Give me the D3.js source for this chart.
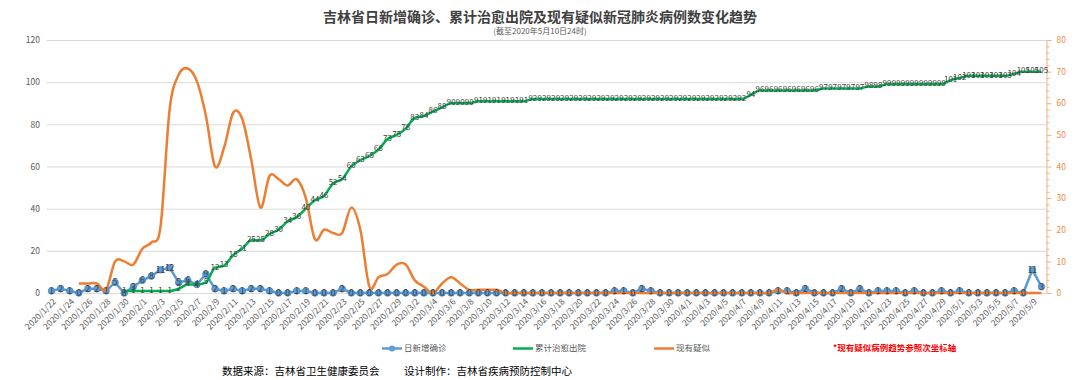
<!DOCTYPE html>
<html><head><meta charset="utf-8">
<script src="https://cdn.jsdelivr.net/npm/d3@7/dist/d3.min.js"></script>
<style>
body{margin:0;background:#fff;}
text{font-family:"Noto Sans CJK SC","Noto Sans",sans-serif;}
</style>
</head><body>
<svg id="chart" width="1080" height="380"></svg>
<script>
const dates = [
"2020/1/22","2020/1/23","2020/1/24","2020/1/25","2020/1/26","2020/1/27","2020/1/28","2020/1/29","2020/1/30","2020/1/31",
"2020/2/1","2020/2/2","2020/2/3","2020/2/4","2020/2/5","2020/2/6","2020/2/7","2020/2/8","2020/2/9","2020/2/10",
"2020/2/11","2020/2/12","2020/2/13","2020/2/14","2020/2/15","2020/2/16","2020/2/17","2020/2/18","2020/2/19","2020/2/20",
"2020/2/21","2020/2/22","2020/2/23","2020/2/24","2020/2/25","2020/2/26","2020/2/27","2020/2/28","2020/2/29",
"2020/3/1","2020/3/2","2020/3/3","2020/3/4","2020/3/5","2020/3/6","2020/3/7","2020/3/8","2020/3/9","2020/3/10",
"2020/3/11","2020/3/12","2020/3/13","2020/3/14","2020/3/15","2020/3/16","2020/3/17","2020/3/18","2020/3/19","2020/3/20",
"2020/3/21","2020/3/22","2020/3/23","2020/3/24","2020/3/25","2020/3/26","2020/3/27","2020/3/28","2020/3/29","2020/3/30","2020/3/31",
"2020/4/1","2020/4/2","2020/4/3","2020/4/4","2020/4/5","2020/4/6","2020/4/7","2020/4/8","2020/4/9","2020/4/10",
"2020/4/11","2020/4/12","2020/4/13","2020/4/14","2020/4/15","2020/4/16","2020/4/17","2020/4/18","2020/4/19","2020/4/20",
"2020/4/21","2020/4/22","2020/4/23","2020/4/24","2020/4/25","2020/4/26","2020/4/27","2020/4/28","2020/4/29","2020/4/30",
"2020/5/1","2020/5/2","2020/5/3","2020/5/4","2020/5/5","2020/5/6","2020/5/7","2020/5/8","2020/5/9","2020/5/10"
];
// 日新增确诊
const newConfirmed = [
1,2,1,0,2,2,1,5,0,3,
6,8,11,12,5,6,4,9,2,1,
2,1,2,2,1,0,0,1,1,0,
0,0,2,0,0,0,0,0,0,
0,0,0,0,0,0,0,0,0,0,
0,0,0,0,0,0,0,0,0,0,
0,0,0,1,1,0,2,1,0,0,0,
0,0,0,0,0,0,0,0,0,0,
1,1,0,2,0,0,0,2,0,2,
0,1,1,1,0,1,0,0,1,0,
1,0,0,0,0,0,1,0,11,3
];
// 累计治愈出院
const cured = [
null,null,null,null,null,null,null,null,1,1,
1,1,1,1,2,4,4,5,12,13,
18,21,25,25,28,30,34,36,40,44,
46,52,54,60,63,65,68,73,75,
78,83,84,86,88,90,90,90,91,91,
91,91,91,91,92,92,92,92,92,92,
92,92,92,92,92,92,92,92,92,92,92,
92,92,92,92,92,92,92,94,96,96,
96,96,96,96,96,97,97,97,97,97,
98,98,99,99,99,99,99,99,99,101,
102,103,103,103,103,103,104,105,105,105
];
// 现有疑似 (次坐标轴)
const suspected = [
null,null,null,3,3,3,1,10,10,9,
14,16,21,58,69,71,67,56,40,46,
57,55,42,27,37,36,34,36,30,17,
20,19,19,27,20,2,5,6,9,
9,4,2,0,3,5,3,1,1,1,
1,0,0,0,0,0,0,0,0,0,
0,0,0,0,0,0,0,0,0,0,0,
0,0,0,0,0,0,0,0,0,0,
1,0,0,0,0,0,0,0,0,0,
0,0,0,0,0,0,0,0,0,0,
0,0,0,0,0,0,0,0,0,0
];
const leftTicks = [0,20,40,60,80,100,120];
const rightTicks = [0,10,20,30,40,50,60,70,80];
const rightMinor = [2,4,6,8,12,14,16,18,22,24,26,28,32,34,36,38,42,44,46,48,52,54,56,58,62,64,66,68,72,74,76,78];
const seriesNames = ["日新增确诊","累计治愈出院","现有疑似"];
const colors = ["#5B9BD5","#00B050","#ED7D31"];

const svg = d3.select("#chart");
const x = d3.scaleBand().domain(dates).range([47,1046]);
const cx = d => x(d) + x.bandwidth()/2;
const yL = d3.scaleLinear().domain([0,120]).range([293,40]);
const yR = d3.scaleLinear().domain([0,80]).range([293,40]);

// title
svg.append("text").attr("x",540).attr("y",22).attr("text-anchor","middle")
  .attr("font-size",14).attr("font-weight","bold").attr("fill","#404040")
  .text("吉林省日新增确诊、累计治愈出院及现有疑似新冠肺炎病例数变化趋势");
svg.append("text").attr("x",540).attr("y",34).attr("text-anchor","middle")
  .attr("font-size",8).attr("fill","#595959").text("(截至2020年5月10日24时)");

// gridlines
const g = svg.append("g");
g.selectAll("line.grid").data(leftTicks).join("line")
  .attr("x1",47).attr("x2",1046).attr("y1",d=>yL(d)+0.5).attr("y2",d=>yL(d)+0.5)
  .attr("stroke","#D9D9D9").attr("stroke-width",1);

// left axis labels
const axL = d3.axisLeft(yL).tickValues(leftTicks).tickSize(0).tickPadding(7);
svg.append("g").attr("transform","translate(47,0)").call(axL)
  .call(s=>s.select(".domain").remove())
  .call(s=>s.selectAll("text").attr("fill","#595959").attr("font-size",8.5)
     .attr("font-family","'Noto Sans CJK SC',sans-serif"));

// right axis
const axR = d3.axisRight(yR).tickValues(rightTicks).tickSize(5).tickPadding(5);
const gr = svg.append("g").attr("transform","translate(1046.5,0)").call(axR);
gr.select(".domain").attr("stroke","#F4B183");
gr.selectAll(".tick line").attr("stroke","#F4B183");
gr.selectAll("text").attr("fill","#EE8A45").attr("font-size",8.5)
  .attr("font-family","'Noto Sans CJK SC',sans-serif");
gr.selectAll("line.minor").data(rightMinor).join("line").attr("class","minor")
  .attr("x1",0).attr("x2",3).attr("y1",d=>yR(d)+0.5).attr("y2",d=>yR(d)+0.5)
  .attr("stroke","#F4B183");

// x axis labels
const xLabels = dates.filter((d,i)=>i%2===0);
svg.append("g").selectAll("text").data(xLabels).join("text")
  .attr("transform",d=>`translate(${cx(d)+3},${300}) rotate(-45)`)
  .attr("text-anchor","end").attr("dy","0.35em")
  .attr("font-size",8.5).attr("fill","#595959").text(d=>d);

// blue line
const ptsB = dates.map((d,i)=>({d,v:newConfirmed[i]}));
svg.append("path").datum(ptsB)
  .attr("d",d3.line().x(p=>cx(p.d)).y(p=>yL(p.v)))
  .attr("fill","none").attr("stroke",colors[0]).attr("stroke-width",2.5);
svg.append("g").selectAll("circle").data(ptsB).join("circle")
  .attr("cx",p=>cx(p.d)).attr("cy",p=>yL(p.v)).attr("r",3.3)
  .attr("fill",colors[0]).attr("stroke","#4A86C0").attr("stroke-width",0.8);

// green line
const ptsG = dates.map((d,i)=>({d,v:cured[i]})).filter(p=>p.v!==null);
svg.append("path").datum(ptsG)
  .attr("d",d3.line().x(p=>cx(p.d)).y(p=>yL(p.v)).curve(d3.curveMonotoneX))
  .attr("fill","none").attr("stroke",colors[1]).attr("stroke-width",2.5);

// orange line (secondary axis)
const ptsO = dates.map((d,i)=>({d,v:suspected[i]})).filter(p=>p.v!==null);
svg.append("path").datum(ptsO)
  .attr("d",d3.line().x(p=>cx(p.d)).y(p=>yR(p.v)).curve(d3.curveCardinal.tension(0)))
  .attr("fill","none").attr("stroke",colors[2]).attr("stroke-width",2.5);

// data labels
svg.append("g").selectAll("text").data(ptsB).join("text")
  .attr("x",p=>cx(p.d)).attr("y",p=>yL(p.v)).attr("dy","0.35em")
  .attr("text-anchor","middle").attr("font-size",8.5).attr("fill","#404040")
  .text(p=>p.v);
svg.append("g").selectAll("text").data(ptsG).join("text")
  .attr("x",p=>cx(p.d)).attr("y",p=>yL(p.v)-1).attr("dy","0.35em")
  .attr("text-anchor","middle").attr("font-size",8).attr("fill","#404040")
  .text(p=>p.v);

// legend
const leg = svg.append("g");
const legItems = [
  {name:seriesNames[0], c:colors[0], x1:382, x2:402, tx:404, marker:true},
  {name:seriesNames[1], c:colors[1], x1:513, x2:533, tx:535, marker:false},
  {name:seriesNames[2], c:colors[2], x1:654, x2:674, tx:676, marker:false}
];
legItems.forEach(it=>{
  leg.append("line").attr("x1",it.x1).attr("x2",it.x2).attr("y1",348.5).attr("y2",348.5)
    .attr("stroke",it.c).attr("stroke-width",2.5);
  if(it.marker) leg.append("circle").attr("cx",(it.x1+it.x2)/2).attr("cy",348.5).attr("r",3).attr("fill",it.c);
  leg.append("text").attr("x",it.tx).attr("y",348.5).attr("dy","0.35em")
    .attr("font-size",8.5).attr("fill","#595959").text(it.name);
});
svg.append("text").attr("x",833).attr("y",348).attr("dy","0.35em")
  .attr("font-size",8.5).attr("font-weight","bold").attr("fill","#FF0000")
  .text("*现有疑似病例趋势参照次坐标轴");

// footer
svg.append("text").attr("x",222).attr("y",371).attr("dy","0.35em")
  .attr("font-size",10.5).attr("fill","#000").text("数据来源：吉林省卫生健康委员会");
svg.append("text").attr("x",404).attr("y",371).attr("dy","0.35em")
  .attr("font-size",10.5).attr("fill","#000").text("设计制作：吉林省疾病预防控制中心");
</script>
</body></html>
